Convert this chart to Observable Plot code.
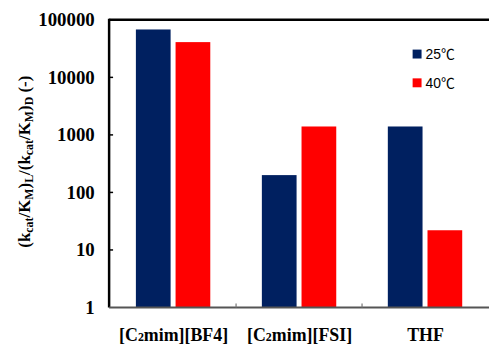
<!DOCTYPE html>
<html><head><meta charset="utf-8">
<script src="https://cdn.jsdelivr.net/npm/d3@7"></script>
<script src="https://cdn.jsdelivr.net/npm/@observablehq/plot@0.6"></script>
<style>
body{margin:0;background:#fff}
#chart{width:489px;height:346px;overflow:hidden;position:relative}
</style>
</head><body><div id="chart"></div>
<script>
const groups = ["[C2mim][BF4]", "[C2mim][FSI]", "THF"];
const temps = ["25℃", "40℃"];
const values25 = [68000, 200, 1400];
const values40 = [41000, 1400, 22];
const yTicks = [1, 10, 100, 1000, 10000, 100000];
const colors = ["#002060", "#ff0000"];

const data = groups.flatMap((g, i) => [
  {group: g, temp: temps[0], value: values25[i]},
  {group: g, temp: temps[1], value: values40[i]}
]);

const serif = "'Liberation Serif', 'Times New Roman', serif";

const plot = Plot.plot({
  width: 493, height: 346,
  marginLeft: 110, marginRight: 0, marginTop: 20, marginBottom: 36,
  style: {background: "#fff", overflow: "visible"},
  fx: {domain: groups, padding: 0, label: null},
  x: {domain: temps, paddingInner: 5/41, paddingOuter: 0.616, axis: null},
  y: {type: "log", domain: [1, 100000], axis: null},
  color: {domain: temps, range: colors},
  marks: [
    Plot.barY(data, {fx: "group", x: "temp", y1: 1, y2: "value", fill: "temp"}),
    Plot.axisY({anchor: "left", ticks: yTicks, tickFormat: d => String(d), tickSize: 0,
      tickPadding: 16, fontFamily: serif, fontWeight: "bold",
      fontSize: 19, fill: "#000", label: null}),
    Plot.axisFx({anchor: "bottom", tickSize: 0, tickPadding: 21, fontFamily: serif,
      fontWeight: "bold", fontSize: 18, fill: "#000", label: null})
  ]
});

document.getElementById("chart").appendChild(plot);

const svg = d3.select(plot);
const y = plot.scale("y");
const fx = plot.scale("fx");
const yTop = y.apply(100000), yBot = y.apply(1);
const xLeft = 110;

// inward y ticks
yTicks.slice(1, -1).forEach(v => {
  const yy = y.apply(v);
  svg.append("line").attr("x1", xLeft).attr("x2", xLeft + 4).attr("y1", yy).attr("y2", yy)
    .attr("stroke", "#000").attr("stroke-width", 1.5);
});
// frame lines
svg.append("line").attr("x1", xLeft).attr("x2", 493).attr("y1", yTop).attr("y2", yTop)
  .attr("stroke", "#000").attr("stroke-width", 2.5);
svg.append("line").attr("x1", xLeft).attr("x2", xLeft).attr("y1", yTop - 1).attr("y2", yBot)
  .attr("stroke", "#000").attr("stroke-width", 2.5);
svg.append("line").attr("x1", xLeft).attr("x2", 493).attr("y1", yBot).attr("y2", yBot)
  .attr("stroke", "#555").attr("stroke-width", 2);
// category boundary ticks
groups.slice(1).forEach(g => {
  const xx = fx.apply(g);
  svg.append("line").attr("x1", xx).attr("x2", xx).attr("y1", yBot).attr("y2", yBot - 4)
    .attr("stroke", "#777").attr("stroke-width", 1.2);
});

// subscripts in category labels
svg.selectAll("text").each(function() {
  const t = d3.select(this);
  const s = t.text();
  if (s.startsWith("[C2")) {
    t.text("");
    t.append("tspan").text("[C");
    t.append("tspan").attr("font-size", 12).text("2");
    t.append("tspan").text(s.slice(3));
  }
});

// y-axis title
const title = svg.append("text")
  .attr("transform", `translate(30,${(yTop + yBot) / 2 - 2}) rotate(-90)`)
  .attr("text-anchor", "middle")
  .attr("font-family", serif).attr("font-weight", "bold").attr("font-size", 17).attr("fill", "#000");
const parts = [["(k"], ["cat", 1], ["/K"], ["M", 1], [")"], ["L", 1], ["/(k"], ["cat", 1], ["/K"], ["M", 1], [")"], ["D", 1], [" (-)"]];
parts.forEach(([s, sub]) => {
  const ts = title.append("tspan").text(s);
  if (sub) ts.attr("font-size", 12).attr("baseline-shift", "-25%");
});

// legend
const sans = "'Liberation Sans', 'Noto Sans CJK JP', sans-serif";
temps.forEach((t, i) => {
  const yy = 50 + i * 29;
  svg.append("rect").attr("x", 416).attr("y", yy).attr("width", 9).attr("height", 9).attr("fill", colors[i]);
  svg.append("text").attr("x", 429).attr("y", yy + 9.5).attr("text-anchor", "start")
    .attr("font-family", sans).attr("font-size", 14).attr("fill", "#000").text(t);
});
</script>
</body></html>
